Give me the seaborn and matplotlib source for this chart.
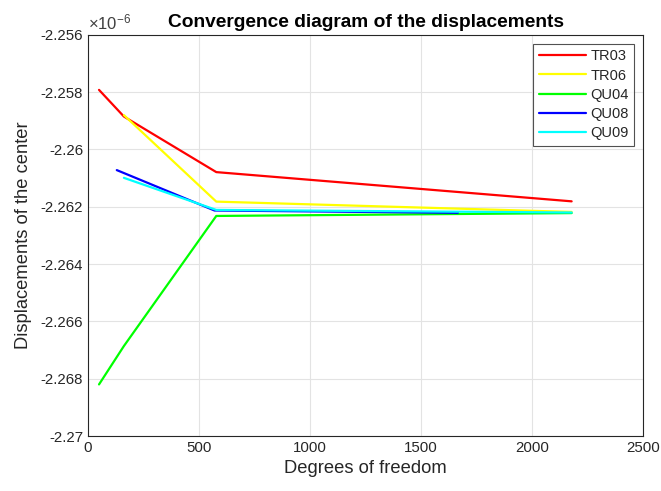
import matplotlib
matplotlib.use("Agg")
import matplotlib.pyplot as plt
import seaborn as sns
import pandas as pd

# Data (displacements in units of 1e-6)
tr03_dof = [50, 162, 578, 2178]
tr03_val = [-2.25792, -2.25885, -2.26079, -2.26181]
tr06_dof = [162, 578, 2178]
tr06_val = [-2.25880, -2.26182, -2.26218]
qu04_dof = [50, 162, 578, 2178]
qu04_val = [-2.26820, -2.26686, -2.26232, -2.26222]
qu08_dof = [130, 570, 1666]
qu08_val = [-2.26072, -2.26213, -2.26221]
qu09_dof = [162, 578, 2178]
qu09_val = [-2.26099, -2.26211, -2.26220]

series = [
    ("TR03", tr03_dof, tr03_val, "#ff0000"),
    ("TR06", tr06_dof, tr06_val, "#ffff00"),
    ("QU04", qu04_dof, qu04_val, "#00ff00"),
    ("QU08", qu08_dof, qu08_val, "#0000ff"),
    ("QU09", qu09_dof, qu09_val, "#00ffff"),
]

frames = []
for name, d, v, c in series:
    frames.append(pd.DataFrame({"dof": d, "disp": v, "elem": name}))
df = pd.concat(frames, ignore_index=True)

sns.set_style("white")
plt.rcParams["font.family"] = ["Liberation Sans", "DejaVu Sans"]
plt.rcParams["mathtext.fontset"] = "custom"
plt.rcParams["mathtext.rm"] = "Liberation Sans"

fig = plt.figure(figsize=(6.61, 4.91), dpi=100)
ax = fig.add_axes([0.133, 0.112, 0.840, 0.817])

palette = {name: c for name, _, _, c in series}
sns.lineplot(data=df, x="dof", y="disp", hue="elem", palette=palette,
             hue_order=[s[0] for s in series], linewidth=1.6, ax=ax,
             sort=False, estimator=None)

ax.set_xlim(0, 2500)
ax.set_ylim(-2.270, -2.256)
ax.set_xticks([0, 500, 1000, 1500, 2000, 2500])
yt = [-2.270, -2.268, -2.266, -2.264, -2.262, -2.260, -2.258, -2.256]
ax.set_yticks(yt)
ax.set_yticklabels(["%g" % round(t, 3) for t in yt])
ax.grid(True, color="#e3e3e3", linewidth=0.8)
ax.tick_params(direction="in", length=4, colors="#262626", labelsize=10.8,
               labelcolor="#262626", width=0.8)
for s in ax.spines.values():
    s.set_color("#262626")
    s.set_linewidth(0.8)
ax.set_xlabel("Degrees of freedom", fontsize=13.2, color="#262626")
ax.set_ylabel("Displacements of the center", fontsize=13.2, color="#262626",
              labelpad=6)
ax.set_title("Convergence diagram of the displacements", fontsize=13.8,
             fontweight="bold", color="black", pad=6)
ax.text(0.0, 1.005, r"$\mathrm{\times10^{-6}}$", transform=ax.transAxes,
        fontsize=12, color="#404040", ha="left", va="bottom")

leg = ax.legend(loc="upper right", fontsize=10.5, frameon=True, fancybox=False,
                edgecolor="#262626", handlelength=3.2, borderpad=0.4,
                labelspacing=0.35, borderaxespad=0.6, handletextpad=0.3)
leg.get_frame().set_linewidth(0.8)
leg.set_title(None)

fig.savefig("out.png", dpi=100)
